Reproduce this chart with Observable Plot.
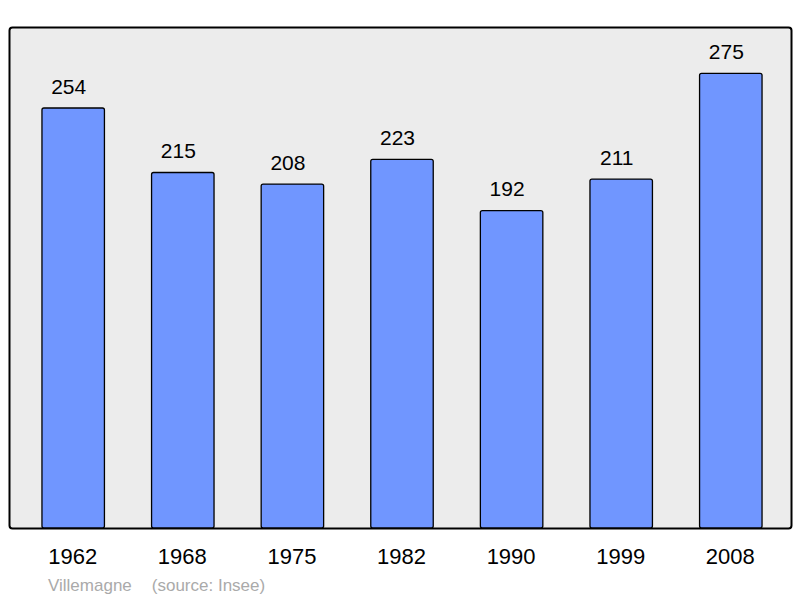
<!DOCTYPE html>
<html>
<head>
<meta charset="utf-8">
<script src="https://cdn.jsdelivr.net/npm/d3@7"></script>
<script src="https://cdn.jsdelivr.net/npm/@observablehq/plot@0.6"></script>
<style>
  body { margin: 0; background: #fff; }
  figure { margin: 0; }
  figcaption {
    font-family: "Liberation Sans", Arial, sans-serif;
    font-size: 17px;
    line-height: 20px;
    color: #aaaaaa;
    padding-left: 48px;
    margin-top: 4px;
  }
  figcaption span.src { margin-left: 20px; }
</style>
</head>
<body>
<div id="chart"></div>
<script>
const years = ["1962", "1968", "1975", "1982", "1990", "1999", "2008"];
const population = [254, 215, 208, 223, 192, 211, 275];
const commune = "Villemagne";
const source = "(source: Insee)";

const data = years.map((year, i) => ({year, value: population[i]}));

const caption = document.createElement("span");
caption.innerHTML = `<span>${commune}</span><span class="src">${source}</span>`;

const chart = Plot.plot({
  width: 800,
  height: 572,
  marginTop: 27,
  marginBottom: 44,
  marginLeft: 9,
  marginRight: 9,
  style: {fontFamily: "'Liberation Sans', Arial, sans-serif", background: "white"},
  x: {domain: years, range: [31, 773], paddingInner: 0.43, paddingOuter: 0.1, round: false, label: null},
  y: {domain: [0, 303], axis: null},
  marks: [
    Plot.frame({fill: "#ececec", stroke: "black", strokeWidth: 2, rx: 3}),
    Plot.barY(data, {x: "year", y: "value", fill: "#7096ff", stroke: "black", strokeWidth: 1.3, rx: 2}),
    Plot.text(data, {x: "year", y: "value", text: d => String(d.value), fontSize: 21, fill: "black", lineAnchor: "bottom", dy: -15, dx: -5}),
    Plot.axisX({tickSize: 0, tickPadding: 20, fontSize: 22, color: "black", label: null, dx: -1})
  ],
  caption: caption
});
document.getElementById("chart").append(chart);
</script>
</body>
</html>
